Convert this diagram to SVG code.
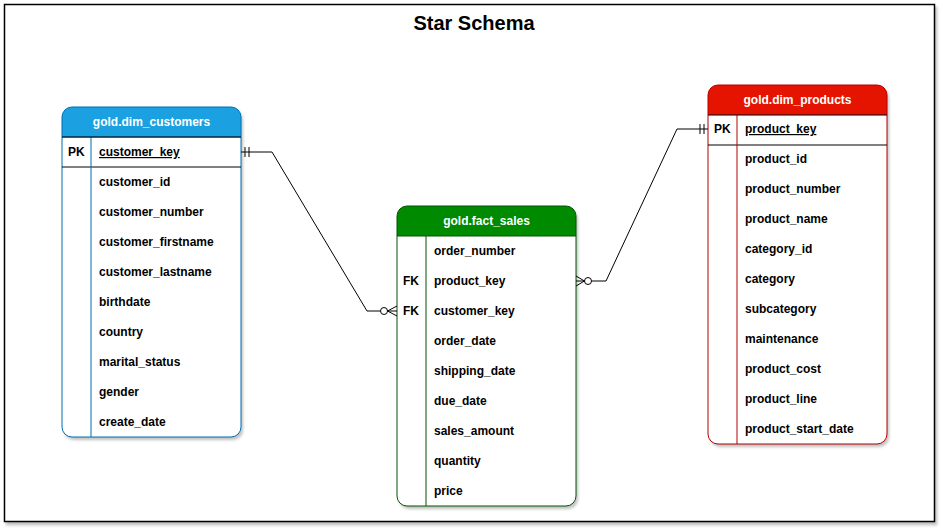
<svg xmlns="http://www.w3.org/2000/svg" width="943" height="529" viewBox="0 0 943 529">
<defs>
<filter id="sh" x="-10%" y="-10%" width="130%" height="130%">
<feGaussianBlur in="SourceAlpha" stdDeviation="1.5"/>
<feOffset dx="2" dy="3" result="b"/>
<feComponentTransfer><feFuncA type="linear" slope="0.25"/></feComponentTransfer>
<feMerge><feMergeNode/><feMergeNode in="SourceGraphic"/></feMerge>
</filter>
</defs>
<style>
text{font-family:"Liberation Sans",Arial,sans-serif;font-weight:bold;font-size:12px;fill:#000}
.hd{fill:#fff;text-anchor:middle}
.t{font-size:20px}
.ln{fill:none;stroke:#000;stroke-width:1}
.u{text-decoration:underline}
</style>
<rect x="4.5" y="4.5" width="930" height="517" fill="#fff" stroke="#000" stroke-width="1.5" filter="url(#sh)"/>
<text class="t" x="474" y="30" text-anchor="middle">Star Schema</text>

<g id="dim_customers">
<rect x="62" y="107" width="179" height="330" rx="10" fill="#fff" filter="url(#sh)"/>
<path d="M62,137 V117 A10,10 0 0 1 72,107 H231 A10,10 0 0 1 241,117 V137 Z" fill="#1BA1E2"/>
<rect x="62" y="107" width="179" height="330" rx="10" fill="none" stroke="#006EAF"/>
<line x1="62" y1="137" x2="241" y2="137" stroke="#006EAF"/>
<line x1="62" y1="167" x2="241" y2="167" stroke="#000"/>
<line x1="91" y1="137" x2="91" y2="437" stroke="#006EAF"/>
<line x1="62" y1="137" x2="241" y2="137" stroke="#000"/>
<text class="hd" x="151.5" y="126">gold.dim_customers</text>
<text x="68" y="156">PK</text>
<text x="99" y="156" class="u">customer_key</text>
<text x="99" y="186">customer_id</text>
<text x="99" y="216">customer_number</text>
<text x="99" y="246">customer_firstname</text>
<text x="99" y="276">customer_lastname</text>
<text x="99" y="306">birthdate</text>
<text x="99" y="336">country</text>
<text x="99" y="366">marital_status</text>
<text x="99" y="396">gender</text>
<text x="99" y="426">create_date</text>
</g>

<g id="fact_sales">
<rect x="397" y="206" width="179" height="300" rx="10" fill="#fff" filter="url(#sh)"/>
<path d="M397,236 V216 A10,10 0 0 1 407,206 H566 A10,10 0 0 1 576,216 V236 Z" fill="#008A00"/>
<rect x="397" y="206" width="179" height="300" rx="10" fill="none" stroke="#005700"/>
<line x1="397" y1="236" x2="576" y2="236" stroke="#005700"/>
<line x1="426" y1="236" x2="426" y2="506" stroke="#005700"/>
<text class="hd" x="486.5" y="225">gold.fact_sales</text>
<text x="434" y="255">order_number</text>
<text x="403" y="285">FK</text>
<text x="434" y="285">product_key</text>
<text x="403" y="315">FK</text>
<text x="434" y="315">customer_key</text>
<text x="434" y="345">order_date</text>
<text x="434" y="375">shipping_date</text>
<text x="434" y="405">due_date</text>
<text x="434" y="435">sales_amount</text>
<text x="434" y="465">quantity</text>
<text x="434" y="495">price</text>
</g>

<g id="dim_products">
<rect x="708" y="85" width="179" height="359" rx="10" fill="#fff" filter="url(#sh)"/>
<path d="M708,115 V95 A10,10 0 0 1 718,85 H877 A10,10 0 0 1 887,95 V115 Z" fill="#E51400"/>
<rect x="708" y="85" width="179" height="359" rx="10" fill="none" stroke="#B20000"/>
<line x1="708" y1="145" x2="887" y2="145" stroke="#000"/>
<line x1="737" y1="115" x2="737" y2="444" stroke="#B20000"/>
<line x1="708" y1="115" x2="887" y2="115" stroke="#000"/>
<text class="hd" x="797.5" y="104">gold.dim_products</text>
<text x="714" y="133">PK</text>
<text x="745" y="133" class="u">product_key</text>
<text x="745" y="163">product_id</text>
<text x="745" y="193">product_number</text>
<text x="745" y="223">product_name</text>
<text x="745" y="253">category_id</text>
<text x="745" y="283">category</text>
<text x="745" y="313">subcategory</text>
<text x="745" y="343">maintenance</text>
<text x="745" y="373">product_cost</text>
<text x="745" y="403">product_line</text>
<text x="745" y="433">product_start_date</text>
</g>

<g id="connectors">
<path class="ln" d="M241,152 H272 L367,311 H380.5"/>
<line class="ln" x1="245" y1="147" x2="245" y2="157"/>
<line class="ln" x1="249" y1="147" x2="249" y2="157"/>
<circle cx="384" cy="311" r="3.5" fill="#fff" stroke="#000"/>
<path class="ln" d="M397,306 L387.5,311 L397,316 M387.5,311 H397"/>

<path class="ln" d="M591.5,281 H606 L677,129 H708"/>
<line class="ln" x1="700" y1="124" x2="700" y2="134"/>
<line class="ln" x1="704" y1="124" x2="704" y2="134"/>
<circle cx="588" cy="281" r="3.5" fill="#fff" stroke="#000"/>
<path class="ln" d="M576,276 L584.5,281 L576,286 M576,281 H584.5"/>
</g>
</svg>
